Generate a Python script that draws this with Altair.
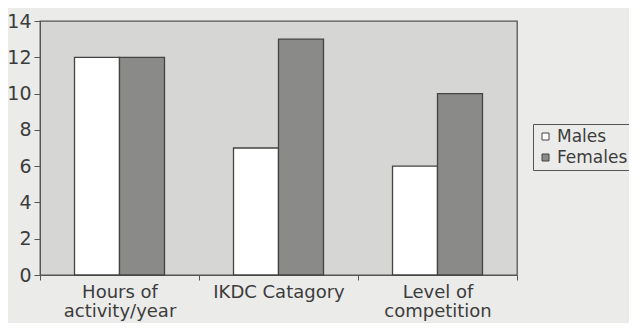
import altair as alt
import pandas as pd

categories = ["Hours of\nactivity/year", "IKDC Catagory", "Level of\ncompetition"]
males = [12, 7, 6]
females = [12, 13, 10]
groups = ["Males", "Females"]
y_ticks = [0, 2, 4, 6, 8, 10, 12, 14]

rows = []
for c, m, f in zip(categories, males, females):
    rows.append({"category": c, "sex": "Males", "value": m})
    rows.append({"category": c, "sex": "Females", "value": f})
df = pd.DataFrame(rows)

FONT = "DejaVu Sans"
TXT = "#3c3c3c"

chart = alt.Chart(df).mark_bar(stroke="#444444", strokeWidth=1.3).encode(
    x=alt.X("category:N", sort=categories, title=None,
            scale=alt.Scale(paddingInner=0, paddingOuter=0),
            axis=alt.Axis(labelAngle=0, labelExpr="split(datum.label, '\\n')",
                          tickBand="extent", labelFont=FONT, labelFontSize=18,
                          labelColor=TXT, labelLineHeight=19.5, labelPadding=3,
                          tickColor="#555555", tickSize=5, domainColor="#555555",
                          labelBaseline="top")),
    xOffset=alt.XOffset("sex:N", sort=groups,
                        scale=alt.Scale(paddingInner=0, paddingOuter=0.767)),
    y=alt.Y("value:Q", title=None,
            scale=alt.Scale(domain=[0, 14], nice=False),
            axis=alt.Axis(values=y_ticks, grid=False, labelFont=FONT, labelFontSize=19,
                          labelColor=TXT, tickColor="#555555", tickSize=6,
                          domainColor="#555555", labelPadding=3)),
    fill=alt.Fill("sex:N", sort=groups,
                  scale=alt.Scale(domain=groups, range=["#ffffff", "#8a8a88"]),
                  legend=alt.Legend(title=None, orient="none", legendX=493, legendY=103,
                                    symbolType="square", symbolSize=49,
                                    symbolStrokeColor="#444444", symbolStrokeWidth=1,
                                    labelFont=FONT, labelFontSize=17, labelColor=TXT,
                                    labelOffset=3, rowPadding=3,
                                    strokeColor="#555555", padding=4)),
).properties(
    width=477, height=254,
    autosize=alt.AutoSizeParams(type="none"),
    padding={"left": 32, "top": 13, "right": 112, "bottom": 48},
    background="#ebebe9",
).configure_view(
    fill="#d6d6d4", stroke="#555555", strokeWidth=1.3
)

chart.save("out.html", embed_options={"renderer": "svg", "actions": False})
